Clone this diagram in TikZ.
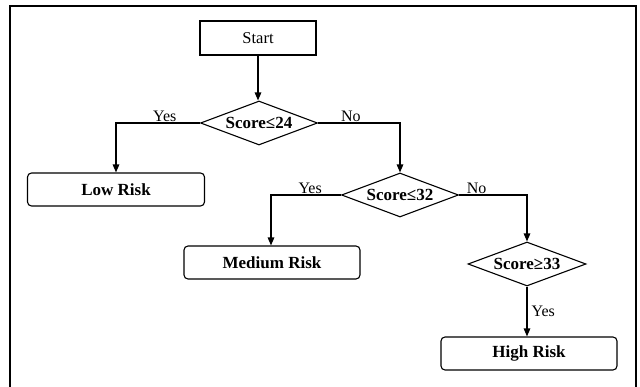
\documentclass[tikz,border=0pt]{standalone}
\usepackage{fontspec}
\setmainfont{Liberation Serif}
\usetikzlibrary{shapes.geometric,arrows.meta}
\tikzset{
  box/.style={draw, line width=1.1pt, minimum width=116pt, minimum height=34pt, inner sep=0pt, font=\fontsize{16.5}{18}\selectfont},
  riskbox/.style={draw, line width=1.1pt, rounded corners=4pt, minimum width=176pt, minimum height=33pt, inner sep=0pt, font=\bfseries\fontsize{17}{19}\selectfont},
  decision/.style={draw, diamond, aspect=2.6, line width=1.1pt, minimum width=117pt, minimum height=44pt, inner sep=0pt, font=\bfseries\fontsize{17}{19}\selectfont},
  arr/.style={line width=1.3pt, -{Triangle[length=8pt,width=6.5pt]}},
  lbl/.style={font=\fontsize{16}{18}\selectfont, inner sep=1pt}
}
\begin{document}
\begin{tikzpicture}[x=1pt,y=-1pt]
\useasboundingbox (0,0) rectangle (640,387);
\draw[line width=2pt] (10,388) -- (10,6) -- (636,6) -- (636,388);
\node[box] (start) at (258,38) {Start};
\node[decision] (d1) at (259,123) {Score≤24};
\node[riskbox, minimum width=177pt] (low) at (116,189.5) {Low Risk};
\node[decision] (d2) at (400,195) {Score≤32};
\node[riskbox] (med) at (272,262.5) {Medium Risk};
\node[decision, minimum width=118pt] (d3) at (527,264) {Score≥33};
\node[riskbox] (high) at (529,353.5) {High Risk};
\draw[arr] (start.south) -- (start.south |- d1.north);
\draw[arr] (d1.west) -| node[lbl, pos=0.21, above] {Yes} (low.north);
\draw[arr] (d1.east) -| node[lbl, pos=0.2, above] {No} (d2.north);
\draw[arr] (d2.west) -| node[lbl, pos=0.22, above] {Yes} ([xshift=-1pt]med.north);
\draw[arr] (d2.east) -| node[lbl, pos=0.13, above] {No} (d3.north);
\draw[arr] (d3.south) -- node[lbl, right=3pt] {Yes} (d3.south |- high.north);
\end{tikzpicture}
\end{document}
